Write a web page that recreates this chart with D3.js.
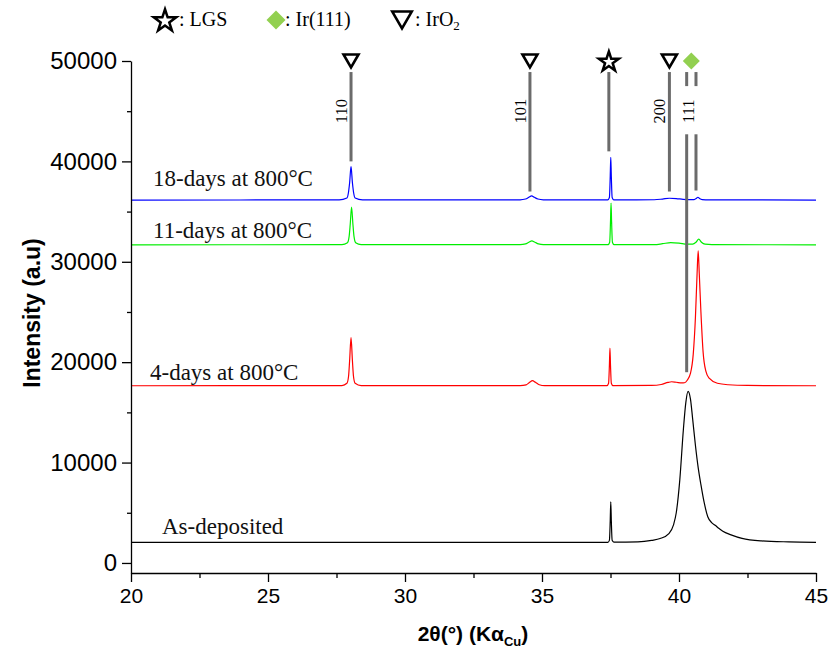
<!DOCTYPE html>
<html><head><meta charset="utf-8">
<script src="https://cdn.jsdelivr.net/npm/d3@7"></script>
<style>body{margin:0;background:#fff}</style>
</head><body>
<svg id="chart" width="833" height="657" style="background:#fff"></svg>
<script>
// ---------- data ----------
const xTickValues = [20, 25, 30, 35, 40, 45];
const xMinorValues = [22.5, 27.5, 32.5, 37.5, 42.5];
const yTickValues = [0, 10000, 20000, 30000, 40000, 50000];
const yMinorValues = [5000, 15000, 25000, 35000, 45000];

const seriesNames = ["As-deposited", "4-days at 800°C", "11-days at 800°C", "18-days at 800°C"];

// [2theta, intensity]
const asDeposited = [
  [20, 2050], [30, 2050], [37.4, 2060], [37.46, 2250], [37.49, 4200], [37.51, 6080], [37.53, 4200], [37.56, 2250], [37.62, 2070],
  [38.5, 2100], [39.0, 2250], [39.31, 2430], [39.63, 2930], [39.8, 3800], [39.9, 5000], [40.03, 8300], [40.16, 13300],
  [40.25, 16000], [40.33, 17090], [40.42, 16300], [40.5, 14300], [40.6, 11700], [40.7, 9500], [40.8, 7800], [40.92, 6000],
  [41.05, 4600], [41.2, 4000], [41.32, 3750], [41.45, 3450], [41.6, 3150], [41.9, 2800], [42.3, 2450], [43.0, 2200],
  [44.0, 2100], [45, 2060]
];
const days4 = [
  [20, 17650], [27.7, 17670], [27.88, 17900], [27.94, 18600], [27.98, 20200], [28.03, 22450], [28.08, 20200], [28.12, 18600],
  [28.18, 17900], [28.4, 17670], [34.2, 17660], [34.42, 17740], [34.55, 18000], [34.65, 18160], [34.76, 18000], [34.9, 17750],
  [35.1, 17660], [37.37, 17660], [37.43, 17900], [37.46, 19700], [37.48, 21410], [37.5, 19700], [37.53, 17900], [37.59, 17660],
  [39.0, 17680], [39.35, 17780], [39.6, 17980], [39.73, 18050], [39.9, 18000], [40.1, 17930], [40.2, 17950], [40.3, 18200],
  [40.42, 18900], [40.52, 20800], [40.6, 24500], [40.66, 28800], [40.7, 31100], [40.74, 28800], [40.8, 25000], [40.88, 21000],
  [40.98, 19100], [41.1, 18400], [41.4, 17900], [41.8, 17750], [42.5, 17680], [45, 17650]
];
const days11 = [
  [20, 31690], [27.7, 31710], [27.9, 31900], [27.96, 32500], [28.0, 33700], [28.05, 35440], [28.1, 33700], [28.14, 32500],
  [28.2, 31900], [28.4, 31710], [34.2, 31700], [34.4, 31780], [34.52, 31950], [34.63, 32080], [34.74, 31950], [34.87, 31780],
  [35.05, 31700], [37.41, 31700], [37.47, 31950], [37.5, 34000], [37.52, 35840], [37.54, 34000], [37.57, 31950], [37.63, 31700],
  [39.1, 31710], [39.4, 31800], [39.7, 31910], [40.0, 31860], [40.3, 31760], [40.5, 31760], [40.62, 31950], [40.72, 32250],
  [40.82, 31950], [40.95, 31760], [41.2, 31710], [45, 31690]
];
const days18 = [
  [20, 36150], [27.6, 36170], [27.88, 36350], [27.93, 36800], [27.98, 37900], [28.03, 39470], [28.08, 37900], [28.13, 36800],
  [28.18, 36350], [28.45, 36170], [34.2, 36170], [34.4, 36250], [34.52, 36420], [34.62, 36560], [34.72, 36420], [34.85, 36250],
  [35.05, 36170], [37.4, 36170], [37.46, 36400], [37.49, 38500], [37.51, 40410], [37.53, 38500], [37.56, 36400], [37.62, 36170],
  [39.1, 36180], [39.4, 36250], [39.65, 36330], [39.9, 36300], [40.15, 36220], [40.4, 36190], [40.55, 36200], [40.63, 36300],
  [40.69, 36430], [40.75, 36300], [40.85, 36200], [41.1, 36170], [45, 36150]
];
const seriesData = [asDeposited, days4, days11, days18];

// reference lines: [2theta, topIntensity, bottomIntensity]
const refSegments = [
  [28.03, 48900, 40000],
  [34.56, 48900, 37000],
  [37.44, 48900, 41000],
  [39.65, 48900, 37000],
  [40.28, 48900, 47500], [40.28, 42700, 19000],
  [40.62, 48900, 47500], [40.62, 42700, 37100]
];
const refLabels = [["110", 28.03], ["101", 34.56], ["200", 39.65]];
const refLabel111 = ["111", 40.62];
const markerTypes = ["tri", "tri", "star", "tri", "diamond"];
const markerPos = [28.03, 34.56, 37.44, 39.65, 40.45];
const legendTypes = ["star", "diamond", "tri"];
const legendTexts = [": LGS", ": Ir(111)", ": IrO"];

// ---------- layout / style ----------
const colors = ["#000000", "#ff0000", "#00ee00", "#0000ff"];
const labelAnchor = [[162, 534], [150, 380], [153, 238], [153, 186]];
const serif = "'Liberation Serif','Times New Roman',serif";
const sans = "'Liberation Sans',Arial,sans-serif";
const diamondColor = "#92d050";

const svg = d3.select("#chart");
const x = d3.scaleLinear().domain([20, 45]).range([131, 816]);
const y = d3.scaleLinear().domain([-1000, 50000]).range([573, 61]);

// curves
const line = d3.line().x(d => x(d[0])).y(d => y(d[1])).curve(d3.curveMonotoneX);
svg.append("g").selectAll("path").data(seriesData).join("path")
  .attr("d", line).attr("fill", "none")
  .attr("stroke", (d, i) => colors[i]).attr("stroke-width", 1.2);

// series labels
svg.append("g").selectAll("text").data(seriesNames).join("text")
  .attr("x", (d, i) => labelAnchor[i][0]).attr("y", (d, i) => labelAnchor[i][1])
  .attr("font-family", serif).attr("font-size", 23).attr("fill", "#111")
  .text(d => d);

// reference lines
svg.append("g").selectAll("line").data(refSegments).join("line")
  .attr("x1", d => x(d[0])).attr("x2", d => x(d[0]))
  .attr("y1", d => y(d[1])).attr("y2", d => y(d[2]))
  .attr("stroke", "#6b6b6b").attr("stroke-width", 3);

svg.append("g").selectAll("text").data(refLabels).join("text")
  .attr("transform", d => `translate(${x(d[1]) - 4},${y(45000)}) rotate(-90)`)
  .attr("text-anchor", "middle").attr("font-family", serif).attr("font-size", 16.5)
  .text(d => d[0]);
svg.append("text")
  .attr("transform", `translate(${x(refLabel111[1]) - 1.5},${y(45000)}) rotate(-90)`)
  .attr("text-anchor", "middle").attr("font-family", serif).attr("font-size", 16.5)
  .text(refLabel111[0]);

// symbol drawing
function drawSymbol(g, type, cx, cy, s) {
  if (type === "tri") {
    const w = 15 * s, h = 13 * s;
    g.append("path").attr("d", `M${cx - w / 2},${cy - h / 2}L${cx + w / 2},${cy - h / 2}L${cx},${cy + h / 2}Z`)
      .attr("fill", "#fff").attr("stroke", "#000").attr("stroke-width", 2.6).attr("stroke-linejoin", "miter");
  } else if (type === "star") {
    const r = 10.5 * s;
    g.append("path").attr("d", d3.symbol(d3.symbolStar, r * r / 0.8908130915292852)())
      .attr("transform", `translate(${cx},${cy + 1})`)
      .attr("fill", "#fff").attr("stroke", "#000").attr("stroke-width", 2.5);
  } else {
    const r = 8.5 * s;
    g.append("path").attr("d", `M${cx},${cy - r}L${cx + r},${cy}L${cx},${cy + r}L${cx - r},${cy}Z`)
      .attr("fill", diamondColor);
  }
}
const mg = svg.append("g");
markerPos.forEach((p, i) => drawSymbol(mg, markerTypes[i], x(p), y(50000), 1));

// legend
const legendX = [165, 276, 402];
const legendTextX = [179, 285, 415];
const lg = svg.append("g");
legendTypes.forEach((t, i) => {
  drawSymbol(lg, t, legendX[i], 20, t === "tri" ? 1.3 : 1.12);
  const tx = lg.append("text").attr("x", legendTextX[i]).attr("y", 26)
    .attr("font-family", serif).attr("font-size", 20).text(legendTexts[i]);
  if (t === "tri") tx.append("tspan").attr("font-size", 13).attr("dy", 4).text("2");
});

// axes
const xAxis = svg.append("g").attr("transform", "translate(0,573)")
  .call(d3.axisBottom(x).tickValues(xTickValues).tickSize(9).tickSizeOuter(0).tickPadding(6).tickFormat(d3.format("d")));
svg.append("g").attr("transform", "translate(0,573)")
  .call(d3.axisBottom(x).tickValues(xMinorValues).tickSize(5).tickFormat("")).select(".domain").remove();
xAxis.selectAll("text").attr("font-family", sans).attr("font-size", 21).attr("fill", "#000");

const yAxis = svg.append("g").attr("transform", "translate(131,0)")
  .call(d3.axisLeft(y).tickValues(yTickValues).tickSize(9).tickSizeOuter(0).tickPadding(5).tickFormat(d3.format("d")));
svg.append("g").attr("transform", "translate(131,0)")
  .call(d3.axisLeft(y).tickValues(yMinorValues).tickSize(4).tickFormat("")).select(".domain").remove();
yAxis.selectAll("text").attr("font-family", sans).attr("font-size", 24).attr("fill", "#000");
svg.selectAll(".domain, .tick line").attr("stroke", "#000").attr("stroke-width", 1.3);

// axis titles
svg.append("text").attr("transform", "translate(40,313) rotate(-90)")
  .attr("text-anchor", "middle").attr("font-family", sans).attr("font-weight", "bold").attr("font-size", 23)
  .text("Intensity (a.u)");
const xt = svg.append("text").attr("x", 473).attr("y", 641)
  .attr("text-anchor", "middle").attr("font-family", sans).attr("font-weight", "bold").attr("font-size", 21);
xt.append("tspan").text("2θ(°) (Kα");
xt.append("tspan").attr("font-size", 13).attr("dy", 5).text("Cu");
xt.append("tspan").attr("dy", -5).text(")");
</script>
</body></html>
